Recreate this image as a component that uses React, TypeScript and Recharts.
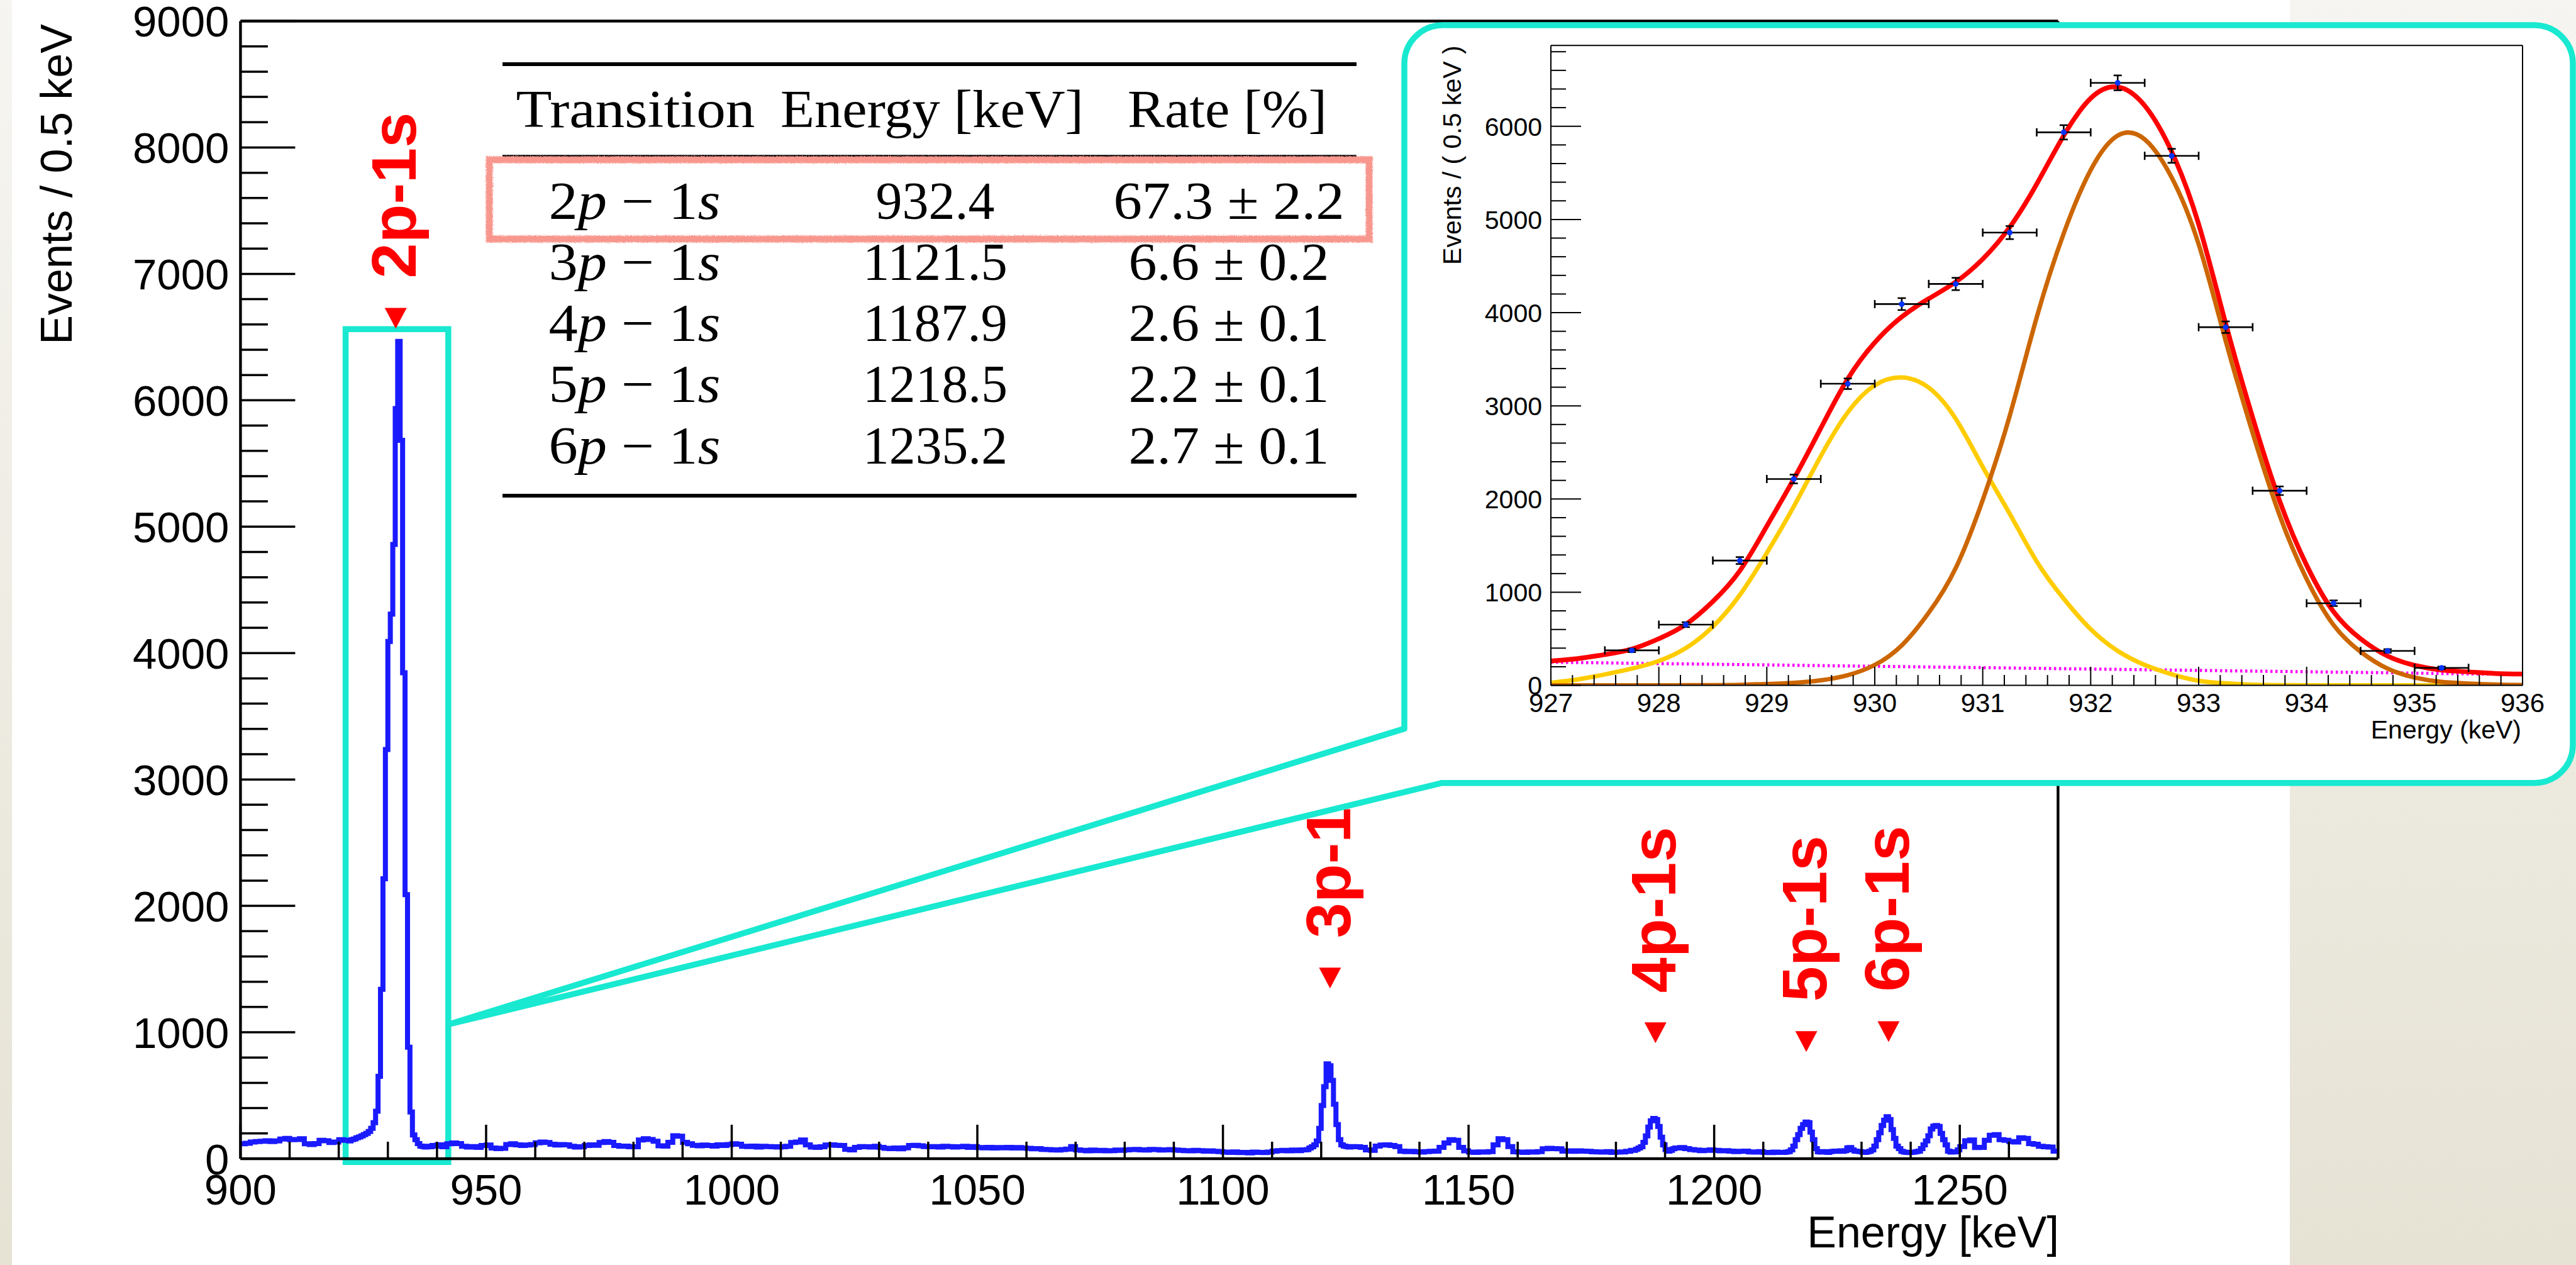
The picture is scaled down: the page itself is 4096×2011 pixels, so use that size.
import React from "react";
import {
  LineChart,
  ComposedChart,
  Line,
  Scatter,
  ErrorBar,
  XAxis,
  YAxis,
  ReferenceLine,
  ReferenceArea,
  ReferenceDot,
} from "recharts";

const W = 4096;
const H = 2011;
const SANS = "'Liberation Sans', Arial, Helvetica, sans-serif";
const SERIF = "'Liberation Serif', 'Times New Roman', serif";
const CYAN = "#18e9d0";
const BLUE = "#1a1aff";

// ---- main spectrum (counts per bin) ----
// 1 keV bins 900-921
const bins900 = [118, 122, 132, 136, 138, 142, 136, 140, 155, 160, 150, 152, 158, 118, 112, 120, 145, 142, 128, 132, 150, 146];
// 0.5 keV bins 922-939.5 (2p-1s)
const bins922 = [
  140, 150, 155, 165, 172, 180, 190, 200, 215, 240,
  285, 376, 652, 1340, 2215, 3237, 4092, 4308, 4859, 5935,
  6466, 5683, 3844, 2089, 882, 370, 188, 150, 120, 100,
  96, 92, 98, 94, 104, 100,
];
// 1 keV bins 940-1116
const bins940 = [
  110, 95, 118, 125, 120, 98, 92, 96, 90, 104,
  108, 85, 80, 82, 112, 118, 110, 104, 108, 112,
  126, 132, 128, 115, 108, 112, 110, 98, 92, 95,
  104, 110, 106, 128, 136, 130, 104, 98, 100, 95,
  95, 148, 158, 152, 138, 102, 100, 130, 182, 178,
  130, 118, 106, 102, 108, 104, 100, 110, 104, 112,
  118, 114, 98, 96, 100, 92, 98, 96, 94, 92,
  95, 98, 128, 132, 148, 110, 92, 90, 95, 108,
  110, 106, 104, 75, 70, 90, 96, 94, 92, 98,
  90, 82, 80, 84, 78, 86, 104, 106, 102, 96,
  94, 96, 92, 98, 96, 92, 95, 98, 90, 96,
  88, 86, 90, 84, 88, 86, 90, 84, 88, 85,
  82, 78, 80, 74, 72, 70, 68, 72, 76, 96,
  70, 66, 62, 68, 64, 66, 62, 64, 68, 66,
  70, 72, 74, 70, 68, 74, 72, 68, 70, 72,
  68, 66, 64, 62, 66, 64, 60, 62, 58, 56,
  52, 50, 54, 48, 50, 46, 52, 50, 48, 52,
  60, 64, 66, 62, 68, 64, 70,
];
// 0.5 keV bins 1117-1125.5 (3p-1s)
const bins1117 = [72, 84, 95, 110, 140, 240, 420, 570, 750, 735, 620, 430, 270, 150, 110, 100, 96, 92];
// 1 keV bins 1126-1183
const bins1126 = [
  96, 94, 90, 70, 66, 100, 108, 110, 104, 96,
  60, 56, 58, 55, 52, 56, 58, 60, 90, 125,
  150, 145, 90, 62, 52, 50, 54, 52, 56, 110,
  158, 150, 96, 55, 52, 50, 54, 52, 56, 78,
  82, 80, 78, 60, 62, 58, 62, 60, 58, 55,
  54, 52, 56, 50, 52, 54, 58, 66,
];
// 0.5 keV bins 1184-1191.5 (4p-1s)
const bins1184 = [75, 85, 95, 130, 180, 250, 300, 318, 310, 255, 170, 110, 72, 60, 66, 78];
// 1 keV bins 1192-1213
const bins1192 = [85, 88, 80, 72, 68, 64, 66, 70, 66, 62, 64, 60, 56, 58, 60, 54, 52, 56, 50, 48, 52, 50];
// 0.5 keV bins 1214-1249.5 (5p, 6p)
const bins1214 = [
  50, 52, 56, 70, 100, 150, 190, 240, 270, 290,
  285, 210, 150, 80, 55, 52, 56, 54, 50, 56,
  58, 60, 58, 62, 58, 64, 86, 88, 70, 60,
  58, 56, 52, 50, 54, 58, 70, 100, 150, 205,
  262, 305, 332, 310, 230, 160, 100, 80, 58, 52,
  50, 48, 50, 52, 56, 60, 80, 110, 140, 182,
  235, 258, 262, 255, 200, 150, 110, 60, 52, 54,
  55, 70,
];
// 1 keV bins 1250-1269
const bins1250 = [96, 142, 148, 88, 90, 145, 185, 190, 150, 145, 135, 132, 165, 160, 120, 115, 98, 94, 92, 60];

const segments = [
  { start: 900, step: 1, counts: bins900 },
  { start: 922, step: 0.5, counts: bins922 },
  { start: 940, step: 1, counts: bins940 },
  { start: 1117, step: 0.5, counts: bins1117 },
  { start: 1126, step: 1, counts: bins1126 },
  { start: 1184, step: 0.5, counts: bins1184 },
  { start: 1192, step: 1, counts: bins1192 },
  { start: 1214, step: 0.5, counts: bins1214 },
  { start: 1250, step: 1, counts: bins1250 },
];

const spectrum: { e: number; c: number }[] = [];
segments.forEach((s) => s.counts.forEach((c, i) => spectrum.push({ e: s.start + i * s.step, c })));
spectrum.push({ e: 1270, c: bins1250[bins1250.length - 1] });

// peak markers
const peakLabels = ["2p-1s", "3p-1s", "4p-1s", "5p-1s", "6p-1s"];
const peakE = [931.6, 1121.8, 1188.05, 1218.75, 1235.5];
const peakTipY = [6567, 1348, 915, 845, 923];

// table
const tableN = ["2", "3", "4", "5", "6"];
const tableEnergy = ["932.4", "1121.5", "1187.9", "1218.5", "1235.2"];
const tableRate = ["67.3 ± 2.2", "6.6 ± 0.2", "2.6 ± 0.1", "2.2 ± 0.1", "2.7 ± 0.1"];

// ---- inset fit ----
const fitE = [927.75, 928.25, 928.75, 929.25, 929.75, 930.25, 930.75, 931.25, 931.75, 932.25, 932.75, 933.25, 933.75, 934.25, 934.75, 935.25];
const fitN = [376, 652, 1340, 2215, 3237, 4092, 4308, 4859, 5935, 6466, 5683, 3844, 2089, 882, 370, 188];
const fitErr = [19, 26, 37, 47, 57, 64, 66, 70, 77, 80, 75, 62, 46, 30, 19, 14];

const curveE = [
  927, 927.25, 927.5, 927.75, 928, 928.25, 928.5, 928.75, 929, 929.25, 929.5, 929.75,
  930, 930.25, 930.5, 930.75, 931, 931.25, 931.5, 931.75, 932, 932.25, 932.5, 932.75,
  933, 933.25, 933.5, 933.75, 934, 934.25, 934.5, 934.75, 935, 935.25, 935.5, 935.75, 936,
];
const totalFit = [
  262, 288, 331, 390, 501, 655, 900, 1230, 1709, 2215, 2760, 3290,
  3680, 3955, 4150, 4329, 4575, 4917, 5380, 5900, 6300, 6422, 6222, 5728,
  4950, 3885, 2876, 1980, 1290, 790, 500, 315, 215, 165, 145, 128, 122,
];
const peakAFit = [
  28, 65, 118, 180, 262, 400, 630, 970, 1421, 1920, 2460, 2930,
  3220, 3305, 3195, 2860, 2345, 1842, 1330, 930, 603, 370, 220, 120,
  50, 22, 8, 3, 1, 0, 0, 0, 0, 0, 0, 0, 0,
];
const peakBFit = [
  0, 0, 0, 1, 1, 2, 3, 6, 15, 28, 55, 110,
  220, 430, 780, 1260, 1990, 2893, 3950, 4850, 5530, 5900, 5860, 5450,
  4734, 3700, 2710, 1825, 1141, 647, 361, 180, 84, 38, 20, 9, 4,
];
const bgE = [927, 930, 933, 936];
const bgFit = [249, 205, 161, 117];

const curveData = curveE.map((e, i) => ({ e, tot: totalFit[i], a: peakAFit[i], b: peakBFit[i] }));
const bgData = bgE.map((e, i) => ({ e, v: bgFit[i] }));
const pointData = fitE.map((e, i) => ({ e, n: fitN[i], ex: 0.25, ey: fitErr[i] }));

const range = (a: number, b: number, s: number) => {
  const out: number[] = [];
  const n = Math.round((b - a) / s);
  for (let i = 0; i <= n; i++) out.push(+(a + i * s).toFixed(4));
  return out;
};
const mainXTicks = range(900, 1270, 10);
const mainYTicks = range(0, 9000, 200);
const insetXTicks = range(927, 936, 0.2);
const insetYTicks = range(0, 6800, 200);

const MainXTick = (p: any) => {
  const v = p.payload.value;
  const major = v % 50 === 0;
  return (
    <g>
      <line x1={p.x} x2={p.x} y1={p.y} y2={p.y - (major ? 54 : 27)} stroke="#000" strokeWidth={3.5} />
      {major && (
        <text x={p.x} y={p.y + 72.5} textAnchor="middle" fontFamily={SANS} fontSize={69} fill="#000">
          {v}
        </text>
      )}
    </g>
  );
};

const MainYTick = (p: any) => {
  const v = p.payload.value;
  const major = v % 1000 === 0;
  return (
    <g>
      <line x1={p.x} x2={p.x + (major ? 87 : 43.5)} y1={p.y} y2={p.y} stroke="#000" strokeWidth={3.5} />
      {major && (
        <text x={p.x - 18} y={p.y} dy="0.36em" textAnchor="end" fontFamily={SANS} fontSize={69} fill="#000">
          {v}
        </text>
      )}
    </g>
  );
};

const InsetXTick = (p: any) => {
  const v = p.payload.value;
  const major = Math.abs(v - Math.round(v)) < 1e-6;
  return (
    <g>
      <line x1={p.x} x2={p.x} y1={p.y} y2={p.y - (major ? 29.6 : 16.5)} stroke="#000" strokeWidth={2} />
      {major && (
        <text x={p.x} y={p.y + 42} textAnchor="middle" fontFamily={SANS} fontSize={42} fill="#000">
          {Math.round(v)}
        </text>
      )}
    </g>
  );
};

const InsetYTick = (p: any) => {
  const v = p.payload.value;
  const major = v % 1000 === 0;
  return (
    <g>
      <line x1={p.x} x2={p.x + (major ? 48 : 24)} y1={p.y} y2={p.y} stroke="#000" strokeWidth={2} />
      {major && (
        <text x={p.x - 14} y={p.y} dy="0.36em" textAnchor="end" fontFamily={SANS} fontSize={41} fill="#000">
          {v}
        </text>
      )}
    </g>
  );
};

const PeakMark = ({ cx, cy, label }: any) => (
  <g>
    <path d={`M${cx - 17.5},${cy - 33} L${cx + 17.5},${cy - 33} L${cx},${cy} Z`} fill="#ff0000" />
    <text
      transform={`translate(${cx + 32},${cy - 80}) rotate(-90)`}
      fill="#ff0000"
      fontFamily={SANS}
      fontWeight="bold"
      fontSize={101}
    >
      {label}
    </text>
  </g>
);

const Dot = (p: any) => <circle cx={p.cx} cy={p.cy} r={4.5} fill="#0033ff" />;

const layer: React.CSSProperties = { position: "absolute", left: 0, top: 0, width: W, height: H };

export default function App() {
  const rowY = [347.5, 445, 542, 639, 737];
  return (
    <div style={{ position: "absolute", left: 0, top: 0, width: W, height: H, background: "#fff", overflow: "hidden" }}>
      <svg style={layer} width={W} height={H}>
        <defs>
          <linearGradient id="slide" x1="0" y1="0" x2="0" y2="1">
            <stop offset="0" stopColor="#f6f5f1" />
            <stop offset="1" stopColor="#e6e2d4" />
          </linearGradient>
        </defs>
        <rect x={0} y={0} width={19} height={H} fill="url(#slide)" />
        <rect x={3641} y={0} width={W - 3641} height={H} fill="url(#slide)" />
      </svg>

      <div style={layer}>
        <LineChart width={W} height={H} data={spectrum} margin={{ top: 33.5, right: 823.6, bottom: 69, left: 282.4 }}>
          <XAxis
            dataKey="e"
            type="number"
            domain={[900, 1270]}
            ticks={mainXTicks}
            interval={0}
            allowDataOverflow
            height={100}
            tickSize={0}
            tickMargin={0}
            tickLine={false}
            axisLine={{ stroke: "#000", strokeWidth: 4.4 }}
            tick={(p: any) => <MainXTick {...p} />}
          />
          <YAxis
            type="number"
            domain={[0, 9000]}
            ticks={mainYTicks}
            interval={0}
            allowDataOverflow
            width={100}
            tickSize={0}
            tickMargin={0}
            tickLine={false}
            axisLine={{ stroke: "#000", strokeWidth: 4.4 }}
            tick={(p: any) => <MainYTick {...p} />}
          />
          <ReferenceLine y={9000} stroke="#000" strokeWidth={4.4} ifOverflow="visible" />
          <ReferenceLine x={1270} stroke="#000" strokeWidth={4.4} ifOverflow="visible" />
          <Line
            dataKey="c"
            type="stepAfter"
            stroke={BLUE}
            strokeWidth={8}
            strokeLinejoin="miter"
            dot={false}
            isAnimationActive={false}
          />
          <ReferenceArea
            x1={921.4}
            x2={942.3}
            y1={-26}
            y2={6563}
            fill="none"
            fillOpacity={0}
            stroke={CYAN}
            strokeWidth={9.5}
            ifOverflow="visible"
          />
          {peakLabels.map((lab, i) => (
            <ReferenceDot
              key={lab}
              x={peakE[i]}
              y={peakTipY[i]}
              r={0}
              ifOverflow="visible"
              shape={(p: any) => <PeakMark cx={p.cx} cy={p.cy} label={lab} />}
            />
          ))}
        </LineChart>
      </div>

      <svg style={layer} width={W} height={H}>
        <defs>
          <filter id="rough" x="-5%" y="-20%" width="110%" height="140%">
            <feTurbulence type="fractalNoise" baseFrequency="0.9" numOctaves="2" result="n" />
            <feDisplacementMap in="SourceGraphic" in2="n" scale="6" />
          </filter>
        </defs>
        {/* axis titles */}
        <text transform="translate(114,38) rotate(-90)" textAnchor="end" fontFamily={SANS} fontSize={70} fill="#000">
          Events / 0.5 keV
        </text>
        <text x={3274} y={1983} textAnchor="end" fontFamily={SANS} fontSize={70} fill="#000">
          Energy [keV]
        </text>

        {/* table */}
        <g fontFamily={SERIF} fontSize={84} fill="#000">
          <line x1={799} x2={2157} y1={102} y2={102} stroke="#000" strokeWidth={6} />
          <line x1={799} x2={2157} y1={248} y2={248} stroke="#000" strokeWidth={3.5} />
          <line x1={799} x2={2157} y1={788} y2={788} stroke="#000" strokeWidth={6} />
          <text x={820.5} y={202} textLength={380} lengthAdjust="spacingAndGlyphs">Transition</text>
          <text x={1241} y={202} textLength={482} lengthAdjust="spacingAndGlyphs">Energy [keV]</text>
          <text x={1793} y={202} textLength={317} lengthAdjust="spacingAndGlyphs">Rate [%]</text>
          {tableN.map((n, i) => (
            <g key={n}>
              <text x={1009} y={rowY[i]} textAnchor="middle" textLength={273} lengthAdjust="spacingAndGlyphs">
                {n}
                <tspan fontStyle="italic">p</tspan>
                {" − 1"}
                <tspan fontStyle="italic">s</tspan>
              </text>
              <text
                x={1487}
                y={rowY[i]}
                textAnchor="middle"
                textLength={tableEnergy[i].length === 5 ? 189 : 230}
                lengthAdjust="spacingAndGlyphs"
              >
                {tableEnergy[i]}
              </text>
              <text
                x={1954}
                y={rowY[i]}
                textAnchor="middle"
                textLength={i === 0 ? 367 : 319}
                lengthAdjust="spacingAndGlyphs"
              >
                {tableRate[i]}
              </text>
            </g>
          ))}
          <rect x={778} y={254} width={1399} height={126} fill="none" stroke="#f8978e" strokeWidth={11} filter="url(#rough)" />
        </g>

        {/* inset bubble */}
        <path
          d="M2292.5,1244.7 H4030 A61,61 0 0 0 4091,1183.7 V101 A61,61 0 0 0 4030,40 H2294 A61,61 0 0 0 2233,101 V1158.4 L715,1628 Z"
          fill="#fff"
          stroke={CYAN}
          strokeWidth={9.5}
          strokeLinejoin="round"
        />
      </svg>

      <div style={layer}>
        <ComposedChart width={W} height={H} margin={{ top: 72.3, right: 85, bottom: 821.4, left: 2366 }}>
          <XAxis
            dataKey="e"
            type="number"
            domain={[927, 936]}
            ticks={insetXTicks}
            interval={0}
            allowDataOverflow
            height={100}
            tickSize={0}
            tickMargin={0}
            tickLine={false}
            axisLine={{ stroke: "#000", strokeWidth: 2 }}
            tick={(p: any) => <InsetXTick {...p} />}
          />
          <YAxis
            type="number"
            domain={[0, 6867]}
            ticks={insetYTicks}
            interval={0}
            allowDataOverflow
            width={100}
            tickSize={0}
            tickMargin={0}
            tickLine={false}
            axisLine={{ stroke: "#000", strokeWidth: 2 }}
            tick={(p: any) => <InsetYTick {...p} />}
          />
          <ReferenceLine y={6867} stroke="#000" strokeWidth={2} ifOverflow="visible" />
          <ReferenceLine x={936} stroke="#000" strokeWidth={2} ifOverflow="visible" />
          <Line
            data={bgData}
            dataKey="v"
            type="linear"
            stroke="#ff00ff"
            strokeWidth={5}
            strokeDasharray="3.5 4.5"
            dot={false}
            isAnimationActive={false}
          />
          <Line data={curveData} dataKey="a" type="natural" stroke="#ffcc00" strokeWidth={7} dot={false} isAnimationActive={false} />
          <Line data={curveData} dataKey="b" type="natural" stroke="#cc6600" strokeWidth={7} dot={false} isAnimationActive={false} />
          <Line data={curveData} dataKey="tot" type="natural" stroke="#ff0000" strokeWidth={7.5} dot={false} isAnimationActive={false} />
          <Scatter data={pointData} dataKey="n" shape={(p: any) => <Dot {...p} />} isAnimationActive={false}>
            <ErrorBar dataKey="ex" direction="x" width={6.5} stroke="#000" strokeWidth={2.6} />
            <ErrorBar dataKey="ey" direction="y" width={6.5} stroke="#000" strokeWidth={2.6} />
          </Scatter>
        </ComposedChart>
      </div>

      <svg style={layer} width={W} height={H}>
        <text transform="translate(2323,72.3) rotate(-90)" textAnchor="end" fontFamily={SANS} fontSize={41} fill="#000">
          Events / ( 0.5 keV )
        </text>
        <text x={4009} y={1174} textAnchor="end" fontFamily={SANS} fontSize={41} fill="#000">
          Energy (keV)
        </text>
      </svg>
    </div>
  );
}
